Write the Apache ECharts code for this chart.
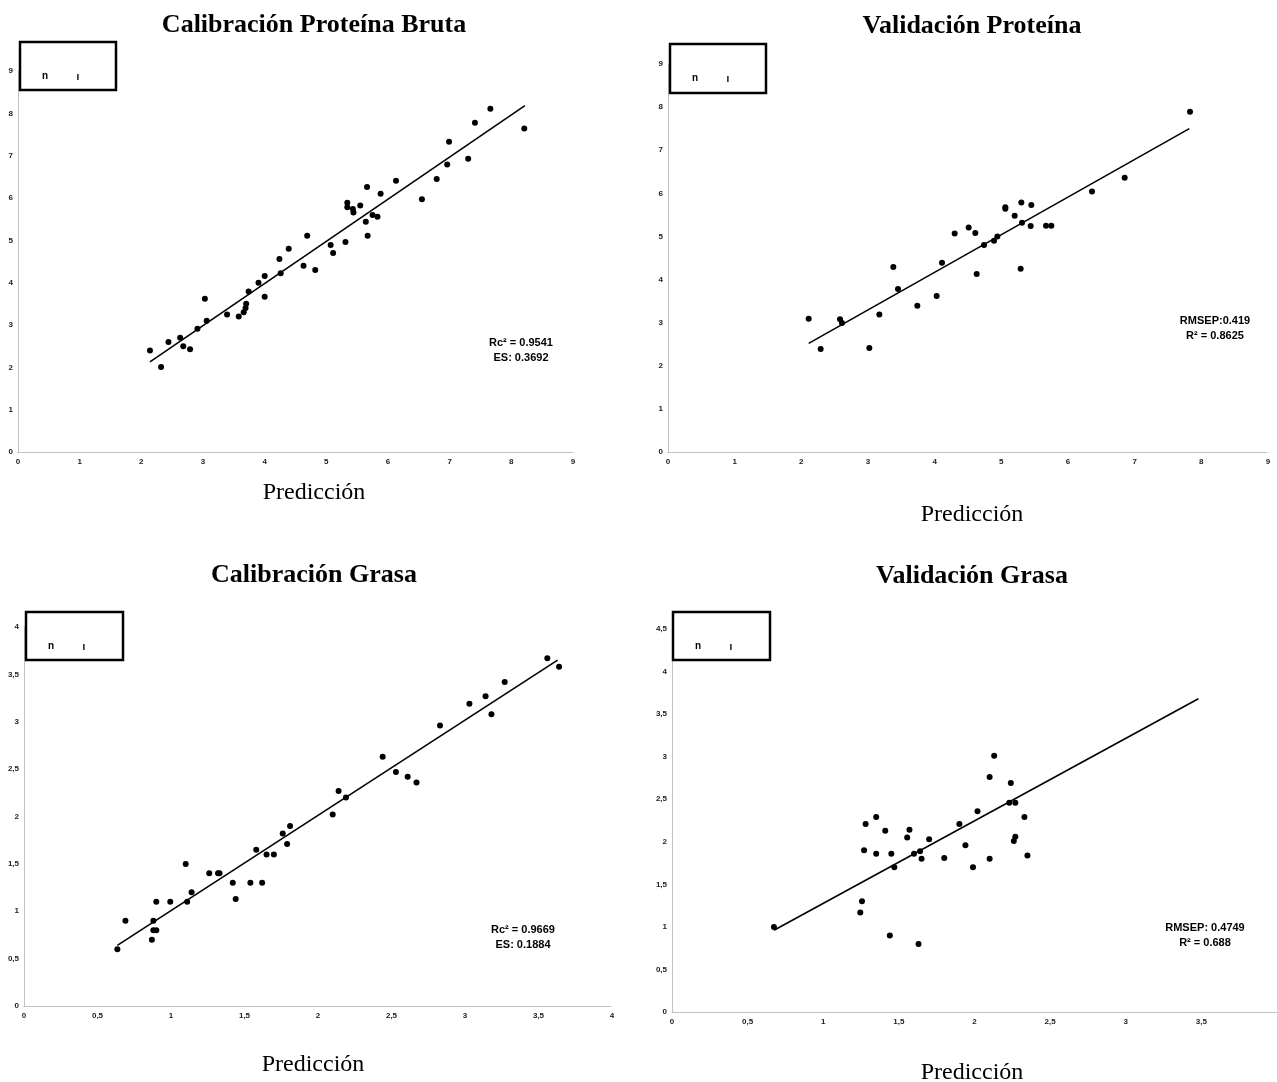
<!DOCTYPE html>
<html>
<head>
<meta charset="utf-8">
<script src="https://cdn.jsdelivr.net/npm/echarts@6/dist/echarts.min.js"></script>
<style>html,body{margin:0;padding:0;background:#fff}#c{width:1277px;height:1082px}</style>
</head>
<body>
<div id="c"></div>
<script>
// ---- Data: Calibración Proteína Bruta ----
const calProtX = [2.14,2.32,2.44,2.63,2.68,2.79,2.91,3.03,3.06,3.39,3.58,3.66,3.69,3.70,3.74,3.90,4.00,4.00,4.24,4.26,4.39,4.63,4.69,4.82,5.07,5.11,5.31,5.34,5.34,5.43,5.44,5.55,5.64,5.66,5.67,5.75,5.83,5.88,6.13,6.55,6.79,6.96,6.99,7.30,7.41,7.66,8.21];
const calProtY = [2.40,2.01,2.60,2.70,2.50,2.43,2.91,3.62,3.10,3.25,3.20,3.30,3.40,3.50,3.79,4.00,4.16,3.67,4.56,4.22,4.80,4.40,5.11,4.30,4.89,4.70,4.96,5.89,5.78,5.74,5.66,5.82,5.44,6.26,5.11,5.60,5.56,6.10,6.41,5.97,6.45,6.79,7.33,6.93,7.78,8.11,7.64];
const calProtLineX = [2.14, 8.22];
const calProtLineY = [2.13, 8.18];

// ---- Data: Validación Proteína ----
const valProtX = [2.11,2.29,2.58,2.61,3.02,3.17,3.38,3.45,3.74,4.03,4.11,4.30,4.51,4.61,4.63,4.74,4.89,4.94,5.06,5.06,5.20,5.29,5.30,5.31,5.44,5.45,5.67,5.75,6.36,6.85,7.83];
const valProtY = [3.09,2.39,3.08,2.99,2.41,3.19,4.29,3.78,3.39,3.62,4.39,5.07,5.21,5.08,4.13,4.80,4.90,5.00,5.68,5.64,5.48,4.25,5.79,5.32,5.24,5.73,5.25,5.25,6.04,6.36,7.89];
const valProtLineX = [2.11, 7.82];
const valProtLineY = [2.52, 7.50];

// ---- Data: Calibración Grasa ----
const calGrasaX = [0.635,0.69,0.87,0.88,0.88,0.90,0.90,0.995,1.10,1.11,1.14,1.26,1.32,1.33,1.42,1.44,1.54,1.58,1.62,1.65,1.70,1.76,1.79,1.81,2.10,2.14,2.19,2.44,2.53,2.61,2.67,2.83,3.03,3.14,3.18,3.27,3.56,3.64];
const calGrasaY = [0.60,0.90,0.70,0.90,0.80,0.80,1.10,1.10,1.50,1.10,1.20,1.40,1.40,1.40,1.30,1.13,1.30,1.65,1.30,1.60,1.60,1.82,1.71,1.90,2.02,2.27,2.20,2.63,2.47,2.42,2.36,2.96,3.19,3.27,3.08,3.42,3.67,3.58];
const calGrasaLineX = [0.635, 3.63];
const calGrasaLineY = [0.64, 3.65];

// ---- Data: Validación Grasa ----
const valGrasaX = [0.674,1.245,1.256,1.27,1.28,1.35,1.35,1.41,1.44,1.45,1.47,1.555,1.57,1.60,1.63,1.64,1.65,1.70,1.80,1.90,1.94,1.99,2.02,2.10,2.10,2.13,2.23,2.24,2.27,2.26,2.27,2.33,2.35];
const valGrasaY = [1.00,1.17,1.30,1.90,2.21,1.86,2.29,2.13,0.90,1.86,1.70,2.05,2.14,1.86,0.80,1.89,1.80,2.03,1.81,2.21,1.96,1.70,2.36,2.76,1.80,3.01,2.46,2.69,2.46,2.01,2.06,2.29,1.84];
const valGrasaLineX = [0.674, 3.48];
const valGrasaLineY = [0.96, 3.68];

// ---- Texts ----
const titles = ['Calibración Proteína Bruta','Validación Proteína','Calibración Grasa','Validación Grasa'];
const xName = 'Predicción';
const stats = [['Rc² = 0.9541','ES: 0.3692'],['RMSEP:0.419','R² = 0.8625'],['Rc² = 0.9669','ES: 0.1884'],['RMSEP: 0.4749','R² = 0.688']];

function zip(a,b){return a.map((v,i)=>[v,b[i]]);}

const chart = echarts.init(document.getElementById('c'));

const grids = [
  {left:18, top:71, width:555, height:381},
  {left:668, top:64, width:600, height:388},
  {left:24, top:627, width:588, height:379},
  {left:672, top:629, width:605, height:383}
];
const axisStyle = {color:'#b5b5b5', type:'dotted', width:1};
const labStyle = {fontSize:8, fontWeight:'bold', color:'#222', fontFamily:'Liberation Sans'};
function fmt(v){return String(v).replace('.', ',');}
const xRanges = [[0,9,1],[0,9,1],[0,4,0.5],[0,4,0.5]];
const yRanges = [[0,9,1],[0,9,1],[0,4,0.5],[0,4.5,0.5]];

const xAxis = xRanges.map((r,i)=>({
  type:'value', gridIndex:i, min:r[0], max:r[1], interval:r[2],
  axisLine:{show:true, onZero:false, lineStyle:axisStyle}, axisTick:{show:false}, splitLine:{show:false},
  axisLabel:Object.assign({margin:6, formatter:fmt, showMaxLabel: i!==3}, labStyle)
}));
const yAxis = yRanges.map((r,i)=>({
  type:'value', gridIndex:i, min:r[0], max:r[1], interval:r[2],
  axisLine:{show:true, onZero:false, lineStyle:axisStyle}, axisTick:{show:false}, splitLine:{show:false},
  axisLabel:Object.assign({margin:5, formatter:fmt}, labStyle)
}));

const scatterSets = [zip(calProtX,calProtY), zip(valProtX,valProtY), zip(calGrasaX,calGrasaY), zip(valGrasaX,valGrasaY)];
const lineSets = [zip(calProtLineX,calProtLineY), zip(valProtLineX,valProtLineY), zip(calGrasaLineX,calGrasaLineY), zip(valGrasaLineX,valGrasaLineY)];

const series = [];
for (let i=0;i<4;i++){
  series.push({type:'line', xAxisIndex:i, yAxisIndex:i, data:lineSets[i], symbol:'none', silent:true,
    lineStyle:{color:'#000', width:1.6}});
  series.push({type:'scatter', xAxisIndex:i, yAxisIndex:i, data:scatterSets[i], symbol:'circle', symbolSize:6,
    itemStyle:{color:'#000', opacity:1}, silent:true});
}

const titleCenters = [[314,25],[972,26],[314,575],[972,576]];
const nameCenters = [[314,493],[972,515],[313,1065],[972,1073]];
const statCenters = [[521,343],[1215,321],[523,930],[1205,928]];
const boxes = [[20,42,96,48],[670,44,96,49],[26,612,97,48],[673,612,97,48]];

const graphic = [];
for (let i=0;i<4;i++){
  graphic.push({type:'text', silent:true, x:titleCenters[i][0], y:titleCenters[i][1],
    style:{text:titles[i], font:'bold 26px "Liberation Serif"', fill:'#000', textAlign:'center', textVerticalAlign:'middle'}});
  graphic.push({type:'text', silent:true, x:nameCenters[i][0], y:nameCenters[i][1],
    style:{text:xName, font:'24px "Liberation Serif"', fill:'#000', textAlign:'center', textVerticalAlign:'middle'}});
  graphic.push({type:'text', silent:true, x:statCenters[i][0], y:statCenters[i][1],
    style:{text:stats[i][0], font:'bold 11px "Liberation Sans"', fill:'#000', textAlign:'center', textVerticalAlign:'middle'}});
  graphic.push({type:'text', silent:true, x:statCenters[i][0], y:statCenters[i][1]+15,
    style:{text:stats[i][1], font:'bold 11px "Liberation Sans"', fill:'#000', textAlign:'center', textVerticalAlign:'middle'}});
  const b = boxes[i];
  graphic.push({type:'rect', silent:true, shape:{x:b[0], y:b[1], width:b[2], height:b[3]},
    style:{fill:'#fff', stroke:'#000', lineWidth:2.5}, z:10});
  graphic.push({type:'text', silent:true, x:b[0]+25, y:b[1]+34, z:11,
    style:{text:'n', font:'bold 10px "Liberation Sans"', fill:'#000', textAlign:'center', textVerticalAlign:'middle'}});
  graphic.push({type:'text', silent:true, x:b[0]+58, y:b[1]+35, z:11,
    style:{text:'ı', font:'bold 10px "Liberation Sans"', fill:'#000', textAlign:'center', textVerticalAlign:'middle'}});
}

chart.setOption({
  animation:false,
  backgroundColor:'#fff',
  grid:grids,
  xAxis:xAxis, yAxis:yAxis, series:series, graphic:graphic
});
</script>
</body>
</html>
